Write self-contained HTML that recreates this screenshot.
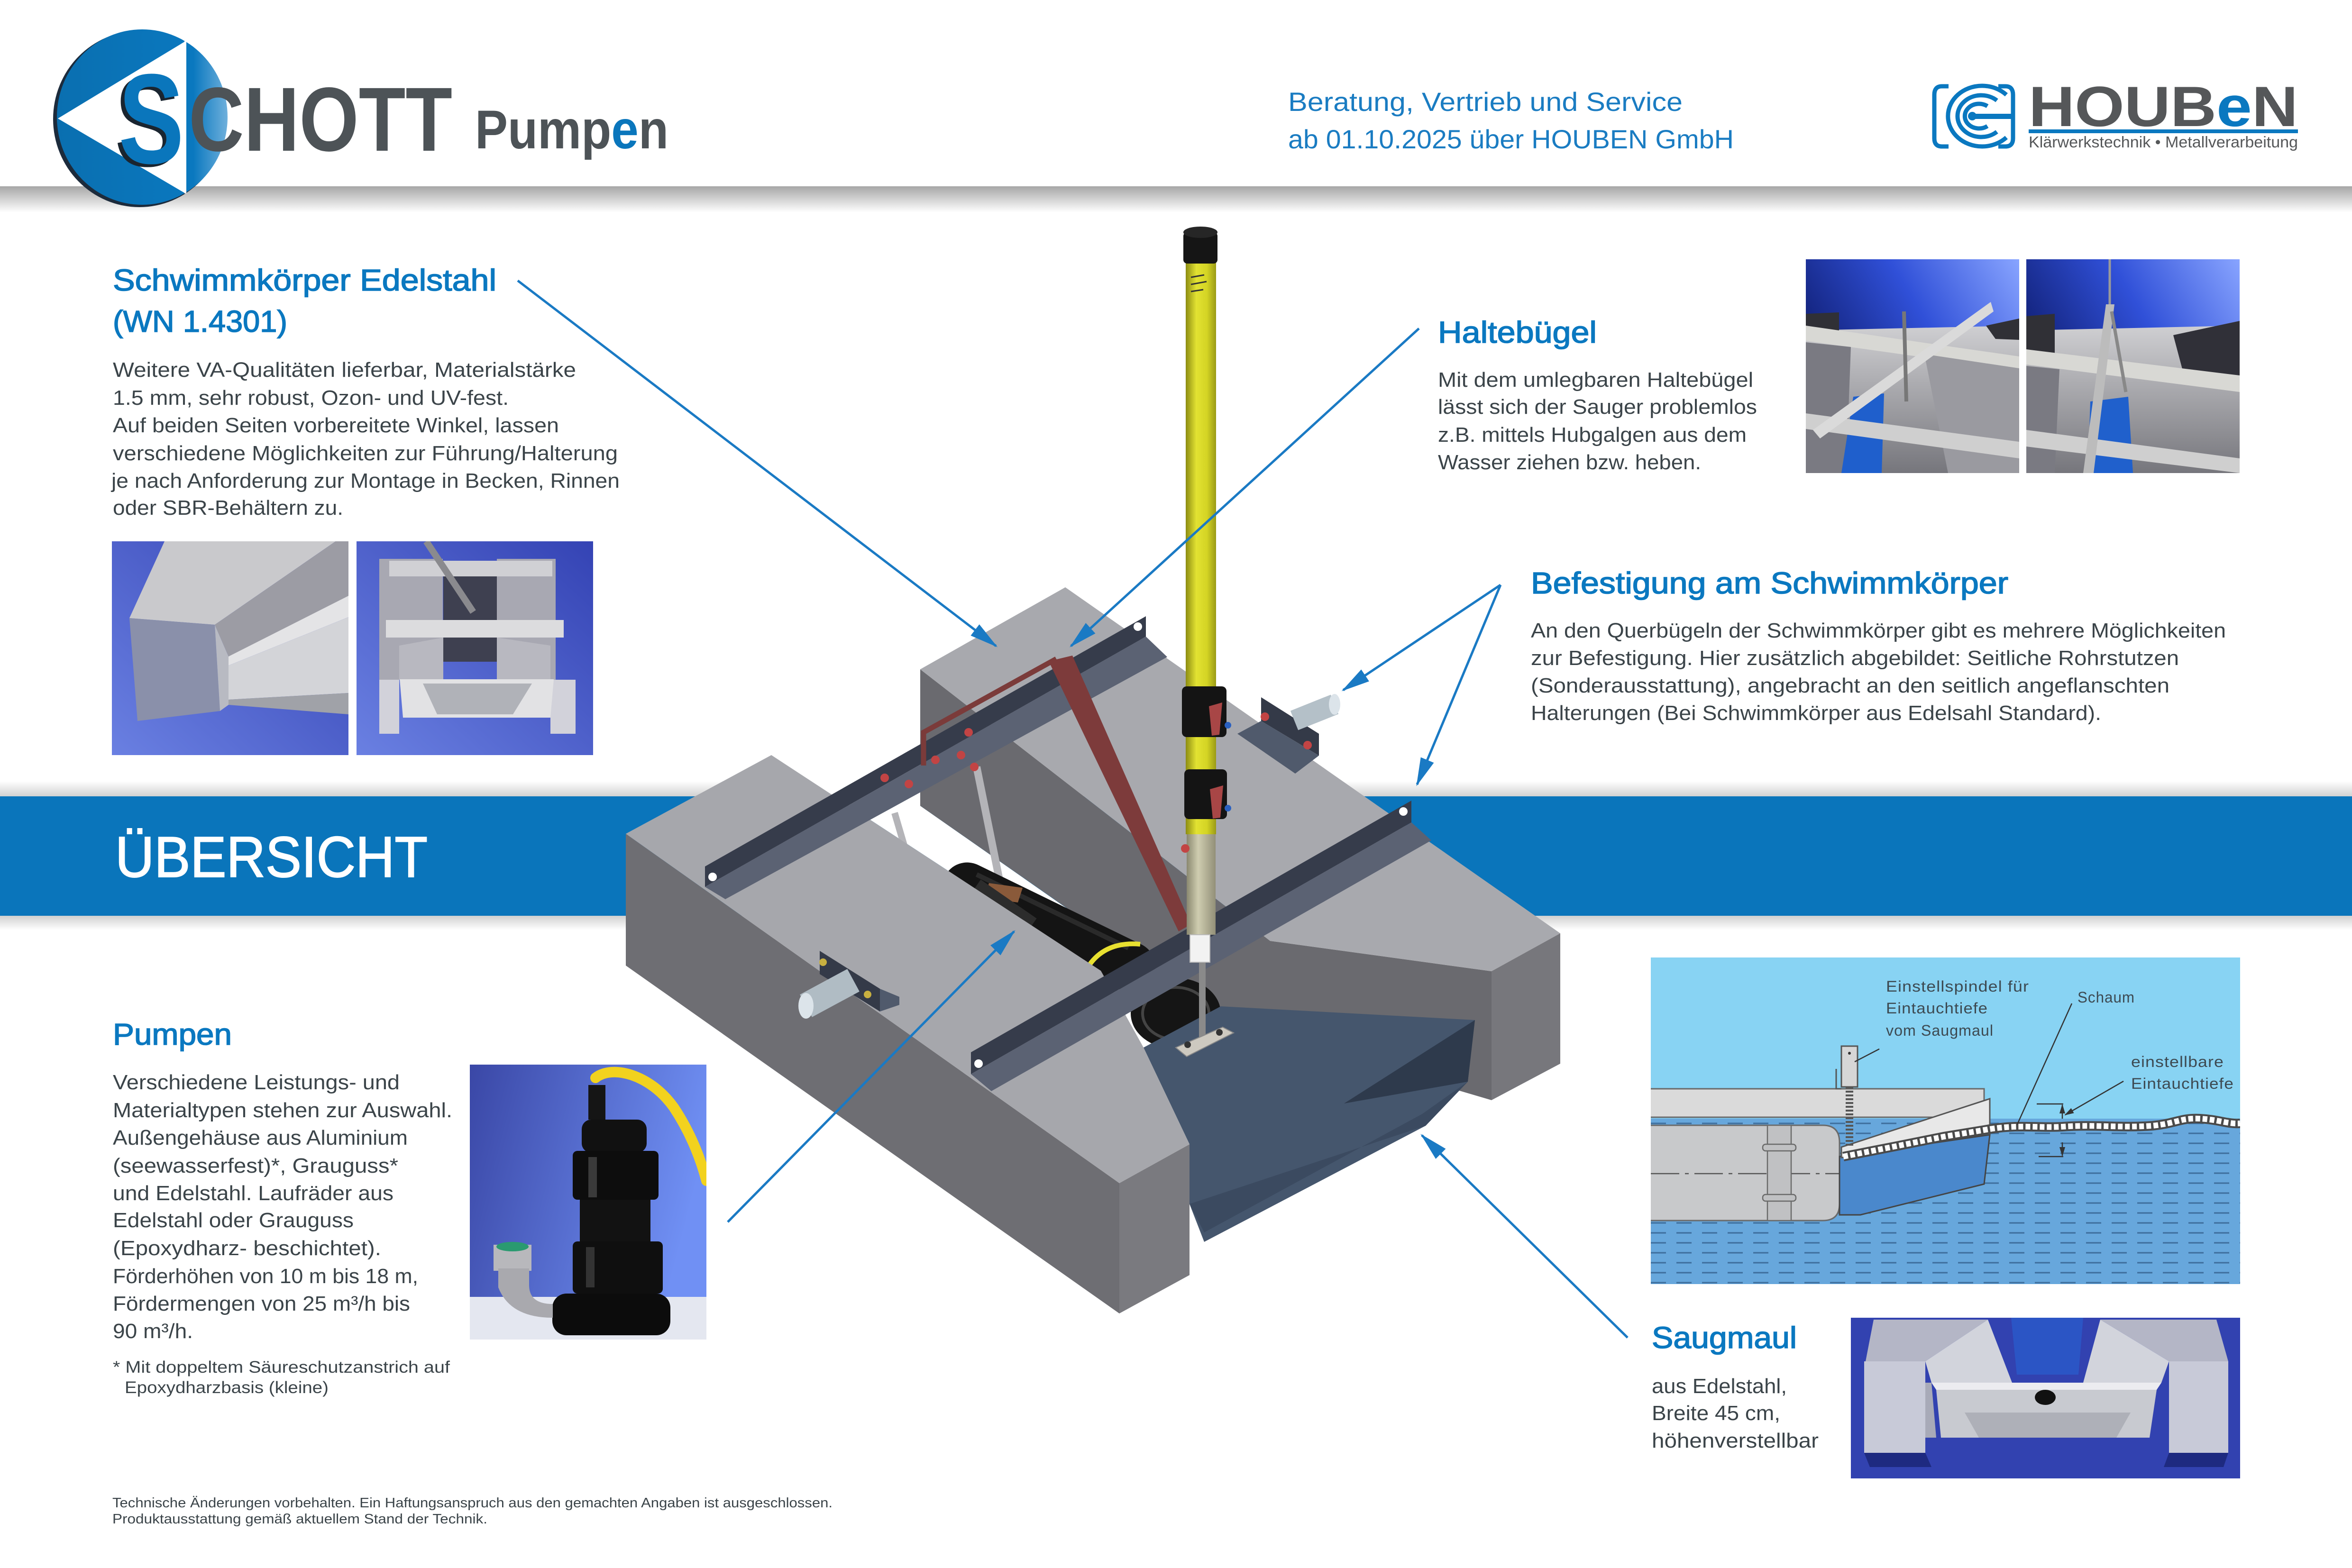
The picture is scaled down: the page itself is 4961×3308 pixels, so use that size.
<!DOCTYPE html>
<html><head><meta charset="utf-8"><style>html,body{margin:0;padding:0;background:#fff}svg{display:block}</style></head><body>
<svg xmlns="http://www.w3.org/2000/svg" width="4961" height="3308" viewBox="0 0 4961 3308" font-family="Liberation Sans, Arial, sans-serif">
<defs>
<linearGradient id="hdr" x1="0" y1="0" x2="0" y2="1"><stop offset="0" stop-color="#a6a6a6"/><stop offset="1" stop-color="#ffffff"/></linearGradient>
<linearGradient id="bandTop" x1="0" y1="0" x2="0" y2="1"><stop offset="0" stop-color="#ffffff"/><stop offset="1" stop-color="#d2d2d2"/></linearGradient>
<linearGradient id="bandBot" x1="0" y1="0" x2="0" y2="1"><stop offset="0" stop-color="#d0d0d0"/><stop offset="1" stop-color="#ffffff"/></linearGradient>
<linearGradient id="pole" x1="0" y1="0" x2="1" y2="0"><stop offset="0" stop-color="#8c8c12"/><stop offset="0.35" stop-color="#e2e232"/><stop offset="0.7" stop-color="#d4d424"/><stop offset="1" stop-color="#9a9a16"/></linearGradient>
<linearGradient id="sleeve" x1="0" y1="0" x2="1" y2="0"><stop offset="0" stop-color="#8a8870"/><stop offset="0.4" stop-color="#cfcdb0"/><stop offset="1" stop-color="#928f78"/></linearGradient>
<linearGradient id="circ" x1="0" y1="0" x2="1" y2="0"><stop offset="0" stop-color="#0a6fb0"/><stop offset="0.8" stop-color="#0a78bf"/><stop offset="1" stop-color="#6fb0dc"/></linearGradient>
<linearGradient id="blueA" x1="1" y1="0" x2="0" y2="1"><stop offset="0" stop-color="#3443b4"/><stop offset="1" stop-color="#6a80e2"/></linearGradient>
<linearGradient id="blueP" x1="0" y1="0" x2="1" y2="0.3"><stop offset="0" stop-color="#3a47a6"/><stop offset="1" stop-color="#7090f4"/></linearGradient>
<linearGradient id="blueT" x1="0" y1="0.6" x2="1" y2="0"><stop offset="0" stop-color="#0a1560"/><stop offset="0.55" stop-color="#3050d8"/><stop offset="1" stop-color="#88a4ff"/></linearGradient>
<linearGradient id="metalT" x1="0" y1="0" x2="0" y2="1"><stop offset="0" stop-color="#cfcfd2"/><stop offset="1" stop-color="#76767c"/></linearGradient>
<marker id="ah" markerWidth="60" markerHeight="40" refX="56" refY="20" orient="auto" markerUnits="userSpaceOnUse"><path d="M0,5 L60,20 L0,35 z" fill="#1a7ac4"/></marker>
<marker id="ahs" markerWidth="20" markerHeight="16" refX="18" refY="8" orient="auto" markerUnits="userSpaceOnUse"><path d="M0,2 L20,8 L0,14 z" fill="#333"/></marker>
<clipPath id="schem"><rect x="3482" y="2020" width="1243" height="689"/></clipPath>
<clipPath id="cA"><rect width="499" height="451"/></clipPath>
<clipPath id="cP"><rect width="499" height="580"/></clipPath>
<clipPath id="cT"><rect width="450" height="451"/></clipPath>
<clipPath id="cS"><rect width="821" height="339"/></clipPath>
</defs>

<rect width="4961" height="3308" fill="#ffffff"/>
<rect x="0" y="393" width="4961" height="55" fill="url(#hdr)"/>

<!-- SCHOTT logo -->
<ellipse cx="294" cy="251" rx="182" ry="186" fill="#1c2b3c"/>
<ellipse cx="300" cy="247" rx="180" ry="185" fill="url(#circ)"/>
<polygon points="391,87 122,250 391,408" fill="#ffffff"/>
<line x1="391" y1="87" x2="391" y2="408" stroke="#ffffff" stroke-width="4"/>
<text x="242" y="350" font-size="270" font-weight="bold" fill="#1a2530" textLength="138" lengthAdjust="spacingAndGlyphs">S</text>
<text x="250" y="344" font-size="270" font-weight="bold" fill="#0a76bc" textLength="138" lengthAdjust="spacingAndGlyphs">S</text>
<text x="398" y="318" font-size="192" font-weight="bold" fill="#4d5357" textLength="556" lengthAdjust="spacingAndGlyphs">CHOTT</text>
<text x="1002" y="313" font-size="115" font-weight="bold" fill="#4d5357" textLength="408" lengthAdjust="spacingAndGlyphs">Pump<tspan fill="#0a76bc">e</tspan>n</text>

<text x="2717" y="234" font-size="56" fill="#1a7cc2" textLength="832" lengthAdjust="spacingAndGlyphs">Beratung, Vertrieb und Service</text>
<text x="2717" y="313" font-size="56" fill="#1a7cc2" textLength="940" lengthAdjust="spacingAndGlyphs">ab 01.10.2025 über HOUBEN GmbH</text>

<!-- HOUBEN logo -->
<g fill="none" stroke="#0a78c0" stroke-width="9">
<path d="M4110,182 L4096,182 Q4080,182 4080,200 L4080,292 Q4080,309 4096,309 L4110,309"/>
<path d="M4215,182 L4230,182 Q4246,182 4246,200 L4246,292 Q4246,309 4230,309 L4215,309"/>
<path d="M4232,200 A72,64 0 1 0 4232,290"/>
<path d="M4212,212 A50,44 0 1 0 4212,278"/>
<path d="M4192,224 A30,26 0 1 0 4192,266"/>
</g>
<rect x="4160" y="240" width="88" height="11" fill="#0a78c0"/>
<circle cx="4160" cy="245" r="9" fill="#0a78c0"/>
<text x="4279" y="266" font-size="120" font-weight="bold" fill="#555759" textLength="568" lengthAdjust="spacingAndGlyphs">HOUB<tspan fill="#0a78c0">e</tspan>N</text>
<rect x="4279" y="273" width="568" height="8" fill="#0a78c0"/>
<text x="4279" y="311" font-size="33" fill="#555759" textLength="568" lengthAdjust="spacingAndGlyphs">Klärwerkstechnik • Metallverarbeitung</text>

<!-- blue band -->
<rect x="0" y="1648" width="4961" height="32" fill="url(#bandTop)"/>
<rect x="0" y="1932" width="4961" height="30" fill="url(#bandBot)"/>
<rect x="0" y="1680" width="4961" height="252" fill="#0a75bb"/>
<text x="243" y="1850" font-size="122" fill="#ffffff" stroke="#ffffff" stroke-width="2" textLength="659" lengthAdjust="spacingAndGlyphs">ÜBERSICHT</text>

<!-- ===== main drawing ===== -->
<polygon points="1627,1593 1941,1412 1941,1700 2420,2035 2322,2048" fill="#ffffff"/>
<polygon points="1941,1412 2679,1985 3146,2049 3146,2321 2600,2160 1941,1700" fill="#6a6a6f"/>
<polygon points="1941,1412 2247,1239 3291,1969 3146,2049 2679,1985" fill="#a8a9ae"/>
<polygon points="3146,2049 3291,1969 3291,2244 3146,2321" fill="#77777c"/>
<line x1="1887" y1="1715" x2="1912" y2="1800" stroke="#b4b4b8" stroke-width="14"/>
<line x1="2060" y1="1618" x2="2108" y2="1856" stroke="#b4b4b8" stroke-width="16"/>
<line x1="2040" y1="1872" x2="2385" y2="2040" stroke="#141414" stroke-width="105" stroke-linecap="round"/>
<line x1="2060" y1="1845" x2="2380" y2="2000" stroke="#3a3a3a" stroke-width="10" opacity="0.6"/>
<polygon points="2086,1863 2157,1873 2147,1904 2076,1894" fill="#8a5a3a"/>
<line x1="2060" y1="1868" x2="2178" y2="1950" stroke="#2c2c2c" stroke-width="30"/>
<path d="M2290,2048 Q2325,1985 2405,1992" stroke="#e8e030" stroke-width="10" fill="none"/>
<ellipse cx="2480" cy="2138" rx="95" ry="75" fill="#151515"/>
<ellipse cx="2480" cy="2138" rx="70" ry="55" fill="none" stroke="#444" stroke-width="6"/>
<polygon points="2412,2210 2575,2123 3111,2152 3096,2282 3007,2375 2540,2620 2509,2540 2509,2414" fill="#45566d"/>
<polygon points="2835,2328 3111,2152 3096,2282" fill="#2e3a4c"/>
<polygon points="2509,2540 3007,2375 3096,2282 3000,2350 2540,2600" fill="#3b4a60"/>
<polygon points="1320,1759 2361,2496 2361,2771 1320,2037" fill="#6e6e73"/>
<polygon points="2361,2496 2509,2414 2509,2690 2361,2771" fill="#7a7a7f"/>
<polygon points="1320,1759 1627,1593 2322,2048 2412,2210 2509,2414 2361,2496" fill="#a6a7ac"/>
<polygon points="1487,1828 2417,1300 2417,1343 1487,1871" fill="#363c4b"/>
<polygon points="1487,1871 2417,1343 2462,1386 1530,1897" fill="#5b6273"/>
<circle cx="1503" cy="1850" r="9" fill="#ffffff"/>
<circle cx="2400" cy="1322" r="9" fill="#ffffff"/>
<g fill="#c24444"><circle cx="1866" cy="1641" r="9"/><circle cx="1917" cy="1654" r="9"/><circle cx="2027" cy="1593" r="9"/><circle cx="2043" cy="1545" r="9"/><circle cx="2055" cy="1618" r="9"/><circle cx="1973" cy="1603" r="9"/></g>
<polyline points="1948,1615 1948,1545 2228,1390" stroke="#7b3b3a" stroke-width="11" fill="none"/>
<polygon points="2212,1395 2262,1383 2512,1950 2486,1965" fill="#7d3b3b"/>
<polygon points="2610,1548 2660,1521 2782,1594 2732,1632" fill="#505a6c"/>
<polygon points="2660,1471 2782,1548 2782,1594 2660,1521" fill="#343a48"/>
<line x1="2730" y1="1520" x2="2815" y2="1486" stroke="#b4c0c8" stroke-width="44"/>
<ellipse cx="2815" cy="1486" rx="12" ry="22" fill="#dce4ea"/>
<circle cx="2668" cy="1512" r="9" fill="#c24444"/><circle cx="2758" cy="1572" r="9" fill="#c24444"/>
<polygon points="1856,2086 1897,2103 1897,2120 1856,2134" fill="#505a6c"/>
<polygon points="1729,2006 1856,2086 1856,2134 1729,2055" fill="#343a48"/>
<line x1="1700" y1="2122" x2="1800" y2="2068" stroke="#b0bcc4" stroke-width="54"/>
<ellipse cx="1700" cy="2122" rx="16" ry="27" fill="#dce4ea"/>
<circle cx="1736" cy="2030" r="8" fill="#c8b040"/><circle cx="1830" cy="2098" r="8" fill="#c8b040"/>
<polygon points="2048,2220 2977,1689 2977,1735 2048,2266" fill="#363c4b"/>
<polygon points="2048,2266 2977,1735 3019,1773 2091,2302" fill="#5b6273"/>
<circle cx="2064" cy="2244" r="9" fill="#ffffff"/>
<circle cx="2960" cy="1712" r="9" fill="#ffffff"/>
<line x1="2536" y1="2030" x2="2536" y2="2195" stroke="#8a8a8a" stroke-width="14"/>
<polygon points="2480,2210 2579,2167 2602,2179 2503,2229" fill="#cdc9c0" stroke="#888" stroke-width="2"/>
<circle cx="2505" cy="2204" r="7" fill="#333"/><circle cx="2572" cy="2178" r="7" fill="#333"/>
<rect x="2503" y="1754" width="61" height="218" fill="url(#sleeve)"/>
<rect x="2510" y="1972" width="42" height="58" fill="#f2f2f2" stroke="#bbbbbb" stroke-width="2"/>
<rect x="2501" y="550" width="64" height="1210" fill="url(#pole)"/>
<rect x="2496" y="490" width="72" height="66" rx="8" fill="#151515"/>
<ellipse cx="2532" cy="490" rx="36" ry="12" fill="#262626"/>
<g stroke="#333" stroke-width="3"><line x1="2512" y1="585" x2="2540" y2="580"/><line x1="2512" y1="600" x2="2545" y2="594"/><line x1="2512" y1="615" x2="2538" y2="611"/></g>
<rect x="2493" y="1448" width="94" height="107" rx="10" fill="#141414"/>
<rect x="2498" y="1623" width="90" height="105" rx="10" fill="#141414"/>
<polygon points="2550,1490 2578,1482 2572,1550 2556,1552" fill="#a84646"/>
<polygon points="2552,1665 2580,1657 2574,1725 2558,1727" fill="#a84646"/>
<circle cx="2590" cy="1530" r="7" fill="#2a60c0"/><circle cx="2590" cy="1705" r="7" fill="#2a60c0"/>
<circle cx="2500" cy="1790" r="9" fill="#c24444"/>

<!-- arrows -->
<g stroke="#1a7ac4" stroke-width="5" fill="none">
<line x1="1092" y1="592" x2="2101" y2="1363" marker-end="url(#ah)"/>
<line x1="2993" y1="693" x2="2259" y2="1363" marker-end="url(#ah)"/>
<line x1="3165" y1="1234" x2="2833" y2="1456" marker-end="url(#ah)"/>
<line x1="3165" y1="1234" x2="2989" y2="1655" marker-end="url(#ah)"/>
<line x1="1535" y1="2578" x2="2139" y2="1965" marker-end="url(#ah)"/>
<line x1="3433" y1="2822" x2="2999" y2="2395" marker-end="url(#ah)"/>
</g>

<!-- ===== texts ===== -->
<g font-size="64" fill="#0a78c0" stroke="#0a78c0" stroke-width="1.6">
<text x="238" y="613" textLength="809" lengthAdjust="spacingAndGlyphs">Schwimmkörper Edelstahl</text>
<text x="238" y="700" textLength="368" lengthAdjust="spacingAndGlyphs">(WN 1.4301)</text>
<text x="3033" y="723" textLength="335" lengthAdjust="spacingAndGlyphs">Haltebügel</text>
<text x="3229" y="1252" textLength="1007" lengthAdjust="spacingAndGlyphs">Befestigung am Schwimmkörper</text>
<text x="238" y="2204" textLength="251" lengthAdjust="spacingAndGlyphs">Pumpen</text>
<text x="3484" y="2844" textLength="306" lengthAdjust="spacingAndGlyphs">Saugmaul</text>
</g>
<g font-size="44" fill="#3b4449">
<text x="238" y="795" textLength="977" lengthAdjust="spacingAndGlyphs">Weitere VA-Qualitäten lieferbar, Materialstärke</text>
<text x="238" y="854" textLength="835" lengthAdjust="spacingAndGlyphs">1.5 mm, sehr robust, Ozon- und UV-fest.</text>
<text x="238" y="912" textLength="941" lengthAdjust="spacingAndGlyphs">Auf beiden Seiten vorbereitete Winkel, lassen</text>
<text x="238" y="971" textLength="1065" lengthAdjust="spacingAndGlyphs">verschiedene Möglichkeiten zur Führung/Halterung</text>
<text x="235" y="1029" textLength="1072" lengthAdjust="spacingAndGlyphs">je nach Anforderung zur Montage in Becken, Rinnen</text>
<text x="238" y="1086" textLength="486" lengthAdjust="spacingAndGlyphs">oder SBR-Behältern zu.</text>

<text x="3033" y="816" textLength="665" lengthAdjust="spacingAndGlyphs">Mit dem umlegbaren Haltebügel</text>
<text x="3033" y="873" textLength="673" lengthAdjust="spacingAndGlyphs">lässt sich der Sauger problemlos</text>
<text x="3033" y="932" textLength="651" lengthAdjust="spacingAndGlyphs">z.B. mittels Hubgalgen aus dem</text>
<text x="3033" y="990" textLength="555" lengthAdjust="spacingAndGlyphs">Wasser ziehen bzw. heben.</text>

<text x="3229" y="1345" textLength="1466" lengthAdjust="spacingAndGlyphs">An den Querbügeln der Schwimmkörper gibt es mehrere Möglichkeiten</text>
<text x="3229" y="1403" textLength="1367" lengthAdjust="spacingAndGlyphs">zur Befestigung. Hier zusätzlich abgebildet: Seitliche Rohrstutzen</text>
<text x="3229" y="1461" textLength="1347" lengthAdjust="spacingAndGlyphs">(Sonderausstattung), angebracht an den seitlich angeflanschten</text>
<text x="3229" y="1519" textLength="1203" lengthAdjust="spacingAndGlyphs">Halterungen (Bei Schwimmkörper aus Edelsahl Standard).</text>

<text x="238" y="2298" textLength="605" lengthAdjust="spacingAndGlyphs">Verschiedene Leistungs- und</text>
<text x="238" y="2357" textLength="716" lengthAdjust="spacingAndGlyphs">Materialtypen stehen zur Auswahl.</text>
<text x="238" y="2415" textLength="622" lengthAdjust="spacingAndGlyphs">Außengehäuse aus Aluminium</text>
<text x="238" y="2474" textLength="602" lengthAdjust="spacingAndGlyphs">(seewasserfest)*, Grauguss*</text>
<text x="238" y="2532" textLength="592" lengthAdjust="spacingAndGlyphs">und Edelstahl. Laufräder aus</text>
<text x="238" y="2589" textLength="508" lengthAdjust="spacingAndGlyphs">Edelstahl oder Grauguss</text>
<text x="238" y="2648" textLength="566" lengthAdjust="spacingAndGlyphs">(Epoxydharz- beschichtet).</text>
<text x="238" y="2707" textLength="644" lengthAdjust="spacingAndGlyphs">Förderhöhen von 10 m bis 18 m,</text>
<text x="238" y="2765" textLength="627" lengthAdjust="spacingAndGlyphs">Fördermengen von 25 m³/h bis</text>
<text x="238" y="2823" textLength="169" lengthAdjust="spacingAndGlyphs">90 m³/h.</text>

<text x="3484" y="2939" textLength="285" lengthAdjust="spacingAndGlyphs">aus Edelstahl,</text>
<text x="3484" y="2996" textLength="271" lengthAdjust="spacingAndGlyphs">Breite 45 cm,</text>
<text x="3484" y="3054" textLength="352" lengthAdjust="spacingAndGlyphs">höhenverstellbar</text>
</g>
<g font-size="35" fill="#3b4449">
<text x="238" y="2896" textLength="711" lengthAdjust="spacingAndGlyphs">* Mit doppeltem Säureschutzanstrich auf</text>
<text x="263" y="2939" textLength="430" lengthAdjust="spacingAndGlyphs">Epoxydharzbasis (kleine)</text>
</g>
<g font-size="29" fill="#3b4449">
<text x="237" y="3180" textLength="1519" lengthAdjust="spacingAndGlyphs">Technische Änderungen vorbehalten. Ein Haftungsanspruch aus den gemachten Angaben ist ausgeschlossen.</text>
<text x="237" y="3214" textLength="791" lengthAdjust="spacingAndGlyphs">Produktausstattung gemäß aktuellem Stand der Technik.</text>
</g>

<!-- ===== Photo A ===== -->
<g transform="translate(236,1142)" clip-path="url(#cA)">
<rect width="499" height="451" fill="url(#blueA)"/>
<polygon points="111,0 472,0 217,176 37,162" fill="#c9c9cc"/>
<polygon points="37,162 217,176 228,358 54,379" fill="#8a90aa"/>
<polygon points="472,0 499,0 499,128 246,243 217,176" fill="#9c9ca4"/>
<polygon points="246,243 499,115 499,160 246,262" fill="#e4e4e6"/>
<polygon points="246,262 499,160 499,320 246,334" fill="#d3d4d8"/>
<polygon points="246,334 499,320 499,365 246,345" fill="#a0a2a8"/>
<polygon points="217,176 246,243 246,345 228,358" fill="#b8bac2"/>
</g>
<!-- ===== Photo B ===== -->
<g transform="translate(752,1142)" clip-path="url(#cA)">
<rect width="499" height="451" fill="url(#blueA)"/>
<rect x="48" y="37" width="134" height="255" fill="#a8a8b2"/>
<rect x="296" y="37" width="124" height="255" fill="#a8a8b2"/>
<rect x="183" y="74" width="113" height="180" fill="#3e4050"/>
<rect x="48" y="292" width="42" height="114" fill="#d2d2da"/>
<rect x="409" y="292" width="53" height="114" fill="#d2d2da"/>
<polygon points="69,41 413,41 413,74 69,74" fill="#d0d0d4"/>
<polygon points="62,166 437,166 437,203 62,203" fill="#dcdcde"/>
<polygon points="90,220 183,203 183,291 90,291" fill="#b8b8c0"/>
<polygon points="409,220 296,203 296,291 409,291" fill="#b8b8c0"/>
<polygon points="91,291 416,291 409,372 98,372" fill="#e2e2e4"/>
<polygon points="140,300 370,300 330,365 170,365" fill="#b0b2b8"/>
<line x1="147" y1="0" x2="246" y2="149" stroke="#8a8a8e" stroke-width="14"/>
</g>

<!-- ===== Pump photo ===== -->
<g transform="translate(991,2246)" clip-path="url(#cP)">
<rect width="499" height="580" fill="url(#blueP)"/>
<rect y="490" width="499" height="90" fill="#e4e7f0"/>
<path d="M265,28 C300,0 380,20 430,90 C470,150 490,210 499,245" stroke="#f2d21e" stroke-width="22" fill="none" stroke-linecap="round"/>
<rect x="250" y="43" width="36" height="73" fill="#151515"/>
<rect x="236" y="116" width="137" height="70" rx="20" fill="#111"/>
<rect x="217" y="182" width="181" height="103" rx="10" fill="#0d0d0d"/>
<rect x="232" y="285" width="149" height="90" fill="#121212"/>
<rect x="217" y="373" width="190" height="110" rx="10" fill="#0f0f0f"/>
<rect x="174" y="483" width="249" height="88" rx="30" fill="#0c0c0c"/>
<rect x="250" y="195" width="18" height="85" fill="#3a3a3a"/>
<rect x="245" y="385" width="18" height="85" fill="#333"/>
<rect x="50" y="380" width="80" height="55" fill="#b8b8bc"/>
<path d="M60,430 L125,430 L125,465 Q125,505 175,505 L175,534 Q85,534 60,470 Z" fill="#a9a9ae"/>
<ellipse cx="90" cy="384" rx="34" ry="10" fill="#2a9a70"/>
</g>

<!-- ===== Top right photos ===== -->
<g transform="translate(3809,547)" clip-path="url(#cT)">
<rect width="450" height="451" fill="url(#blueT)"/>
<polygon points="0,150 450,140 450,451 0,451" fill="url(#metalT)"/>
<polygon points="0,115 70,112 70,150 0,150" fill="#303036"/>
<polygon points="380,140 450,125 450,170 400,168" fill="#303036"/>
<polygon points="0,140 450,205 450,235 0,172" fill="#d8d8d4"/>
<polygon points="0,175 95,185 85,451 0,451" fill="#7a7a82"/>
<polygon points="250,200 450,230 450,451 300,451" fill="#9a9aa0"/>
<polygon points="100,290 165,283 160,451 75,451" fill="#1f5fcc"/>
<polygon points="0,325 450,385 450,420 0,358" fill="#cfcfcf"/>
<polygon points="15,360 390,90 396,110 30,378" fill="#dadada"/>
<line x1="207" y1="110" x2="212" y2="300" stroke="#777" stroke-width="8"/>
</g>
<g transform="translate(4274,547)" clip-path="url(#cT)">
<rect width="450" height="451" fill="url(#blueT)"/>
<polygon points="0,150 450,140 450,451 0,451" fill="url(#metalT)"/>
<polygon points="0,120 60,115 60,200 0,190" fill="#303036"/>
<polygon points="310,160 450,130 450,250 330,235" fill="#303038"/>
<polygon points="0,190 450,245 450,280 0,222" fill="#d8d8d4"/>
<polygon points="0,225 70,232 60,451 0,451" fill="#7a7a82"/>
<polygon points="135,300 215,290 225,451 130,451" fill="#2060cc"/>
<polygon points="0,360 450,420 450,451 0,395" fill="#cfcfcf"/>
<line x1="176" y1="0" x2="176" y2="100" stroke="#9a9a9a" stroke-width="5"/>
<polygon points="168,95 186,95 142,451 120,451" fill="#bcbcbc"/>
<line x1="180" y1="110" x2="210" y2="280" stroke="#888" stroke-width="7"/>
</g>

<!-- ===== Schematic ===== -->
<g clip-path="url(#schem)">
<rect x="3482" y="2020" width="1243" height="689" fill="#88d3f3"/>
<rect x="3482" y="2360" width="1243" height="349" fill="#67a7dc"/>
<g stroke="#3e6e9c" stroke-width="3" stroke-dasharray="32 22">
<line x1="3482" y1="2370" x2="4725" y2="2370"/><line x1="3482" y1="2391" x2="4725" y2="2391"/><line x1="3482" y1="2412" x2="4725" y2="2412"/><line x1="3482" y1="2433" x2="4725" y2="2433"/><line x1="3482" y1="2454" x2="4725" y2="2454"/><line x1="3482" y1="2475" x2="4725" y2="2475"/><line x1="3482" y1="2496" x2="4725" y2="2496"/><line x1="3482" y1="2517" x2="4725" y2="2517"/><line x1="3482" y1="2538" x2="4725" y2="2538"/><line x1="3482" y1="2559" x2="4725" y2="2559"/><line x1="3482" y1="2580" x2="4725" y2="2580"/><line x1="3482" y1="2601" x2="4725" y2="2601"/><line x1="3482" y1="2622" x2="4725" y2="2622"/><line x1="3482" y1="2643" x2="4725" y2="2643"/><line x1="3482" y1="2664" x2="4725" y2="2664"/><line x1="3482" y1="2685" x2="4725" y2="2685"/><line x1="3482" y1="2706" x2="4725" y2="2706"/>
</g>
<rect x="3470" y="2297" width="715" height="60" fill="#dadada" stroke="#6a6a6a" stroke-width="3"/>
<path d="M3470,2374 L3845,2374 Q3880,2374 3880,2410 L3880,2540 Q3880,2575 3845,2575 L3470,2575 Z" fill="#c8c9cb" stroke="#6a6a6a" stroke-width="3"/>
<line x1="3482" y1="2476" x2="4120" y2="2476" stroke="#555" stroke-width="2.5" stroke-dasharray="60 12 8 12"/>
<rect x="3728" y="2374" width="50" height="201" fill="#c0c1c3" stroke="#6a6a6a" stroke-width="2.5"/>
<rect x="3718" y="2414" width="70" height="14" rx="6" fill="#c0c1c3" stroke="#6a6a6a" stroke-width="2.5"/>
<rect x="3718" y="2520" width="70" height="14" rx="6" fill="#c0c1c3" stroke="#6a6a6a" stroke-width="2.5"/>
<polygon points="3880,2440 4197,2394 4185,2498 3924,2563 3880,2563" fill="#4a88cc" stroke="#444" stroke-width="3"/>
<polygon points="3884,2420 4197,2318 4197,2382 3930,2440 3884,2442" fill="#e8e8e8" stroke="#555" stroke-width="3"/>
<line x1="3901" y1="2293" x2="3901" y2="2420" stroke="#555" stroke-width="16" stroke-dasharray="4 4"/>
<rect x="3884" y="2207" width="34" height="86" fill="#d6d6d6" stroke="#555" stroke-width="3"/>
<polyline points="3873,2255 3873,2297 3884,2297" fill="none" stroke="#555" stroke-width="3"/>
<circle cx="3901" cy="2222" r="3" fill="#333"/>
<path d="M3888,2440 L4000,2418 L4100,2398 L4197,2382 C4260,2372 4300,2380 4350,2377 C4420,2372 4470,2380 4540,2375 C4590,2370 4600,2358 4640,2360 C4680,2362 4700,2372 4725,2370" stroke="#4a4a4a" stroke-width="20" fill="none"/>
<path d="M3888,2440 L4000,2418 L4100,2398 L4197,2382 C4260,2372 4300,2380 4350,2377 C4420,2372 4470,2380 4540,2375 C4590,2370 4600,2358 4640,2360 C4680,2362 4700,2372 4725,2370" stroke="#ffffff" stroke-width="12" stroke-dasharray="10 5" fill="none"/>
<g stroke="#333" stroke-width="2.5" fill="none">
<line x1="3964" y1="2213" x2="3912" y2="2240"/>
<line x1="4370" y1="2117" x2="4255" y2="2372"/>
<line x1="4479" y1="2281" x2="4356" y2="2352" marker-end="url(#ahs)"/>
<line x1="4296" y1="2329" x2="4352" y2="2329"/>
<line x1="4300" y1="2440" x2="4352" y2="2440"/>
<line x1="4350" y1="2360" x2="4350" y2="2331" marker-end="url(#ahs)"/>
<line x1="4350" y1="2410" x2="4350" y2="2438" marker-end="url(#ahs)"/>
</g>
<g font-size="32" fill="#3d4a52" letter-spacing="1">
<text x="3978" y="2092" textLength="302" lengthAdjust="spacingAndGlyphs">Einstellspindel für</text>
<text x="3978" y="2138" textLength="215" lengthAdjust="spacingAndGlyphs">Eintauchtiefe</text>
<text x="3978" y="2185" textLength="227" lengthAdjust="spacingAndGlyphs">vom Saugmaul</text>
<text x="4382" y="2115" textLength="121" lengthAdjust="spacingAndGlyphs">Schaum</text>
<text x="4495" y="2251" textLength="196" lengthAdjust="spacingAndGlyphs">einstellbare</text>
<text x="4495" y="2297" textLength="217" lengthAdjust="spacingAndGlyphs">Eintauchtiefe</text>
</g>
</g>

<!-- ===== Saugmaul photo ===== -->
<g transform="translate(3904,2780)" clip-path="url(#cS)">
<rect width="821" height="339" fill="#3242b0"/>
<polygon points="338,0 490,0 480,120 350,120" fill="#2b55c5"/>
<polygon points="48,4 289,4 157,92 31,92" fill="#b4b6c6"/>
<polygon points="526,4 771,4 796,92 671,92" fill="#b4b6c6"/>
<rect x="28" y="92" width="129" height="193" fill="#c8cad8"/>
<rect x="671" y="92" width="125" height="193" fill="#c8cad8"/>
<polygon points="157,92 289,4 340,137 170,137" fill="#d2d4dc"/>
<polygon points="671,92 526,4 490,137 655,137" fill="#d2d4dc"/>
<polygon points="157,137 170,137 180,253 157,253" fill="#a8aab8"/>
<polygon points="170,137 655,137 645,152 180,152" fill="#ececf0"/>
<polygon points="180,152 645,152 630,253 190,253" fill="#c8cad0"/>
<polygon points="240,200 590,200 560,253 270,253" fill="#aeb0b8"/>
<ellipse cx="410" cy="168" rx="22" ry="16" fill="#111"/>
<polygon points="28,285 157,285 170,315 40,315" fill="#1e2a80"/>
<polygon points="671,285 796,285 786,315 660,315" fill="#1e2a80"/>
</g>
</svg>
</body></html>
